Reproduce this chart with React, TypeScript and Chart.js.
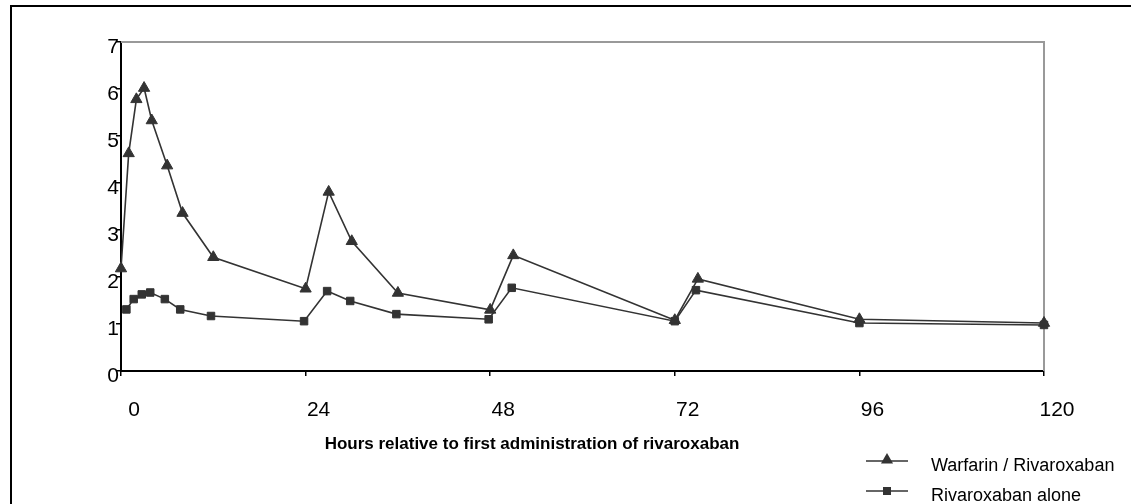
import React, { useEffect, useRef } from "react";
import { Chart, registerables } from "chart.js";

Chart.register(...registerables);

// ---- data ----
const xTickValues = [0, 24, 48, 72, 96, 120];
const yTickValues = [0, 1, 2, 3, 4, 5, 6, 7];

const warfarinLabel = "Warfarin / Rivaroxaban";
const warfarinHours = [0, 1, 2, 3, 4, 6, 8, 12, 24, 27, 30, 36, 48, 51, 72, 75, 96, 120];
const warfarinValues = [2.18, 4.63, 5.78, 6.02, 5.33, 4.37, 3.36, 2.42, 1.75, 3.81, 2.76, 1.66, 1.3, 2.46, 1.08, 1.96, 1.1, 1.02];

const rivaroxabanLabel = "Rivaroxaban alone";
const rivaroxabanHours = [0.7, 1.65, 2.7, 3.8, 5.7, 7.7, 11.7, 23.8, 26.8, 29.8, 35.8, 47.8, 50.8, 72, 74.75, 96, 120];
const rivaroxabanValues = [1.31, 1.53, 1.63, 1.67, 1.53, 1.31, 1.17, 1.06, 1.7, 1.49, 1.21, 1.1, 1.77, 1.06, 1.72, 1.02, 0.98];

const xTitle = "Hours relative to first administration of rivaroxaban";

const FONT = "'Liberation Sans', Arial, Helvetica, sans-serif";
const INK = "#333333";

function drawTri(ctx: CanvasRenderingContext2D, x: number, y: number, r: number) {
  ctx.beginPath();
  ctx.moveTo(x, y - r);
  ctx.lineTo(x + r * Math.sin((2 * Math.PI) / 3), y - r * Math.cos((2 * Math.PI) / 3));
  ctx.lineTo(x + r * Math.sin((4 * Math.PI) / 3), y - r * Math.cos((4 * Math.PI) / 3));
  ctx.closePath();
  ctx.fill();
}

const decorPlugin = {
  id: "decor",
  beforeDatasetsDraw(chart: any) {
    const { ctx, chartArea } = chart;
    ctx.save();
    ctx.strokeStyle = "#999999";
    ctx.lineWidth = 2;
    ctx.beginPath();
    ctx.moveTo(chartArea.left, chartArea.top);
    ctx.lineTo(chartArea.right, chartArea.top);
    ctx.lineTo(chartArea.right, chartArea.bottom);
    ctx.stroke();
    ctx.restore();
  },
  afterDraw(chart: any) {
    const { ctx } = chart;
    ctx.save();
    // outer frame
    ctx.strokeStyle = "#000";
    ctx.lineWidth = 2;
    ctx.strokeRect(11, 6, 1140, 530);

    // x-axis title
    ctx.fillStyle = "#000";
    ctx.font = `bold 17px ${FONT}`;
    ctx.textAlign = "center";
    ctx.textBaseline = "middle";
    ctx.fillText(xTitle, 532, 444);

    // legend
    const rows = [
      { label: warfarinLabel, y: 461, style: "triangle" },
      { label: rivaroxabanLabel, y: 491, style: "rect" },
    ];
    ctx.font = `18px ${FONT}`;
    ctx.textAlign = "left";
    rows.forEach((r) => {
      ctx.strokeStyle = INK;
      ctx.lineWidth = 1.6;
      ctx.beginPath();
      ctx.moveTo(866, r.y);
      ctx.lineTo(908, r.y);
      ctx.stroke();
      ctx.fillStyle = INK;
      if (r.style === "triangle") drawTri(ctx, 887, r.y - 1, 7);
      else ctx.fillRect(883, r.y - 4, 8, 8);
      ctx.fillStyle = "#000";
      ctx.fillText(r.label, 931, r.y + 5);
    });
    ctx.restore();
  },
};

export default function App() {
  const ref = useRef<HTMLCanvasElement>(null);

  useEffect(() => {
    document.body.style.margin = "0";
    const canvas = ref.current!;
    const chart = new Chart(canvas, {
      type: "line",
      data: {
        datasets: [
          {
            label: warfarinLabel,
            data: warfarinHours.map((h, i) => ({ x: h, y: warfarinValues[i] })),
            borderColor: INK,
            backgroundColor: INK,
            borderWidth: 1.6,
            pointStyle: "triangle",
            pointRadius: 6.5,
            pointBorderWidth: 1,
            pointBorderColor: INK,
            pointBackgroundColor: INK,
            tension: 0,
            clip: false as any,
          },
          {
            label: rivaroxabanLabel,
            data: rivaroxabanHours.map((h, i) => ({ x: h, y: rivaroxabanValues[i] })),
            borderColor: INK,
            backgroundColor: INK,
            borderWidth: 1.6,
            pointStyle: "rect",
            pointRadius: 5.3,
            pointBorderWidth: 1,
            pointBorderColor: INK,
            pointBackgroundColor: INK,
            tension: 0,
            clip: false as any,
          },
        ],
      },
      options: {
        responsive: false,
        animation: false,
        devicePixelRatio: 1,
        layout: { padding: { left: 0, top: 42, right: 87, bottom: 0 } },
        plugins: {
          legend: { display: false },
          tooltip: { enabled: false },
          title: { display: false },
        },
        scales: {
          x: {
            type: "linear",
            min: 0,
            max: 120,
            afterFit: (s: any) => {
              s.height = 133;
            },
            afterBuildTicks: (s: any) => {
              s.ticks = xTickValues.map((v) => ({ value: v }));
            },
            ticks: {
              color: "#000",
              font: { family: FONT, size: 21 },
              padding: 22,
              labelOffset: 13,
              maxRotation: 0,
              autoSkip: false,
            },
            grid: {
              drawOnChartArea: false,
              drawTicks: true,
              tickLength: 5,
              color: "#000",
              lineWidth: 1.5,
            },
            border: { display: true, color: "#000", width: 2 },
          },
          y: {
            type: "linear",
            min: 0,
            max: 7,
            afterFit: (s: any) => {
              s.width = 121;
            },
            afterBuildTicks: (s: any) => {
              s.ticks = yTickValues.map((v) => ({ value: v }));
            },
            ticks: {
              color: "#000",
              font: { family: FONT, size: 21 },
              padding: -3,
              labelOffset: 5,
            },
            grid: {
              drawOnChartArea: false,
              drawTicks: true,
              tickLength: 5,
              color: "#000",
              lineWidth: 1.5,
            },
            border: { display: true, color: "#000", width: 2 },
          },
        },
      },
      plugins: [decorPlugin],
    });
    return () => chart.destroy();
  }, []);

  return (
    <div style={{ position: "absolute", left: 0, top: 0, width: 1131, height: 504, background: "#fff" }}>
      <canvas ref={ref} width={1131} height={504} style={{ display: "block" }} />
    </div>
  );
}
